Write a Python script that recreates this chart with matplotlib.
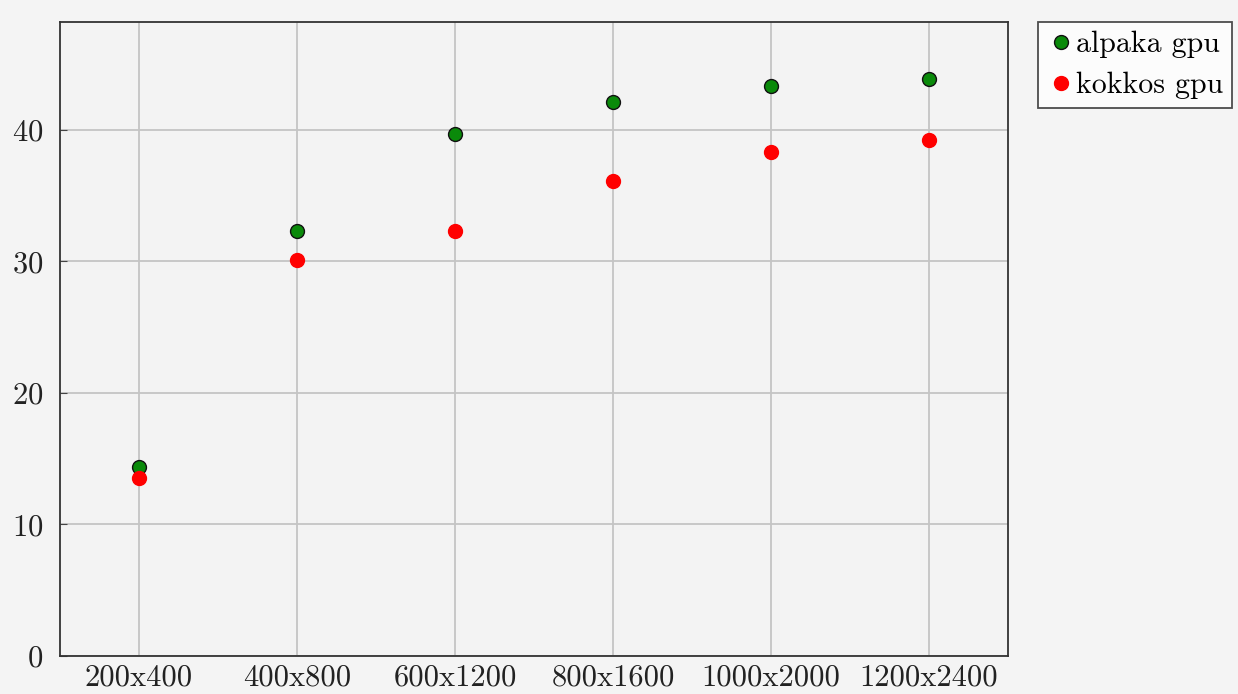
import numpy as np
import matplotlib.pyplot as plt

plt.rcParams['font.family'] = ['cmr10', 'DejaVu Serif']
plt.rcParams['axes.formatter.use_mathtext'] = True

sizes = ['200x400', '400x800', '600x1200', '800x1600', '1000x2000', '1200x2400']
alpaka_gpu = [14.4, 32.3, 39.7, 42.1, 43.3, 43.9]
kokkos_gpu = [13.5, 30.1, 32.3, 36.1, 38.3, 39.2]
yticks = [0, 10, 20, 30, 40]

fig = plt.figure(figsize=(12.38, 6.94), dpi=100, facecolor='#f4f4f4')
ax = fig.add_axes([60 / 1238, 1 - 656 / 694, 948 / 1238, 634 / 694])
ax.set_facecolor('#f3f3f3')

x = np.arange(len(sizes))
ax.plot(x, alpaka_gpu, 'o', color='#0a8a0a', markeredgecolor='#111111',
        markeredgewidth=1.0, markersize=10, label='alpaka gpu', zorder=3)
ax.plot(x, kokkos_gpu, 'o', color='#ff0000', markeredgecolor='#ff0000',
        markersize=10, label='kokkos gpu', zorder=3)

ax.set_xlim(-0.5, 5.5)
ax.set_ylim(0, 48.2)
ax.set_xticks(x)
ax.set_xticklabels(sizes)
ax.set_yticks(yticks)
ax.grid(True, color='#c4c4c4', linewidth=1.3)
ax.set_axisbelow(True)
ax.tick_params(direction='in', length=5, labelsize=22, color='#444444',
               labelcolor='#222222')
ax.tick_params(axis='x', length=0, pad=6)
ax.tick_params(axis='y', pad=12)
for s in ax.spines.values():
    s.set_color('#333333')
    s.set_linewidth(1.3)

leg = ax.legend(loc='upper left', bbox_to_anchor=(1.032, 1.0), fontsize=21.5,
                frameon=True, fancybox=False, handletextpad=0.05,
                handlelength=0.9, borderaxespad=0, borderpad=0.3,
                labelspacing=0.45)
leg.get_frame().set_edgecolor('#222222')
leg.get_frame().set_facecolor('white')
leg.get_frame().set_linewidth(1.3)

fig.savefig('out.png', dpi=100, facecolor=fig.get_facecolor())
